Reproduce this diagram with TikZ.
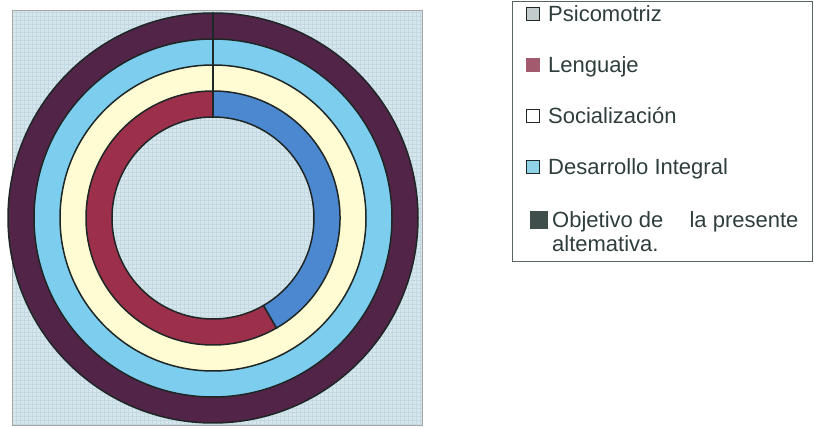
\documentclass[tikz,border=0pt]{standalone}
\usepackage{fontspec}
\setmainfont{Liberation Sans}
\usepackage{tikz}
\usepackage{xcolor}
\usetikzlibrary{positioning}

\definecolor{bgblue}{HTML}{D6E6ED}
\definecolor{gridblue}{HTML}{C4D8E1}
\definecolor{plumring}{HTML}{512448}
\definecolor{skyring}{HTML}{7DCDEE}
\definecolor{creamring}{HTML}{FFFBD3}
\definecolor{lengred}{HTML}{9C2F4A}
\definecolor{psiblue}{HTML}{4B88CF}
\definecolor{ringline}{HTML}{1F2626}
\definecolor{inkgrey}{HTML}{2F3D3D}
\definecolor{psigrey}{HTML}{C3CCCC}
\definecolor{lengmark}{HTML}{A25A6E}
\definecolor{desmark}{HTML}{8FD3E8}
\definecolor{objmark}{HTML}{3F4F4C}

\begin{document}
\begin{tikzpicture}[x=1pt, y=1pt, node distance=51pt]
    % Styles
    \tikzstyle{ring} = [draw=ringline, line width=1.5pt]
    \tikzstyle{gridline} = [gridblue, line width=0.4pt, step=4pt]
    \tikzstyle{legmark} = [rectangle, minimum size=13pt, inner sep=0pt, draw=ringline, line width=1pt]
    \tikzstyle{legtext} = [anchor=west, inner sep=0pt, text height=15.75pt, text depth=0pt, text=inkgrey, font=\fontsize{22}{26}\selectfont]
    \tikzstyle{legbox} = [draw=inkgrey!80, line width=1pt]

    \useasboundingbox (0,0) rectangle (814,428);

    % Background of the chart
    \fill[bgblue] (12,3) rectangle (422,418);
    \draw[gridline] (12,3) grid (422,418);
    \draw[gray!70] (12,3) rectangle (422,418);

    % Rings
    \coordinate (c) at (213,210);
    \draw[ring, fill=plumring] (c) circle[radius=205];
    \draw[ring, fill=skyring] (c) circle[radius=179];
    \draw[ring, fill=creamring] (c) circle[radius=153];
    \draw[ring, fill=lengred] (c) -- ++(90:127) arc[start angle=90, end angle=300, radius=127] -- cycle;
    \draw[ring, fill=psiblue] (c) -- ++(-60:127) arc[start angle=-60, end angle=90, radius=127] -- cycle;
    \fill[bgblue] (c) circle[radius=101];
    \begin{scope}
        \clip (c) circle[radius=101];
        \draw[gridline] (100,100) grid (330,320);
    \end{scope}
    \draw[ring] (c) circle[radius=101];
    \coordinate (rtop) at ([yshift=205pt]c);
    \coordinate (htop) at ([yshift=101pt]c);
    \draw[ring] (rtop) -- (htop);

    % Legend
    \draw[legbox] (512,166) rectangle (812,426);
    \node[legmark, fill=psigrey] (mkpsi) at (533,414) {};
    \node[legmark, fill=lengmark, draw=lengmark, below of=mkpsi] (mkleng) {};
    \node[legmark, fill=white, below of=mkleng] (mksoc) {};
    \node[legmark, fill=desmark, below of=mksoc] (mkdes) {};
    \node[legmark, fill=objmark, draw=objmark, minimum size=17pt, below of=mkdes, xshift=6pt, yshift=-2pt] (mkobj) {};

    \node[legtext, right=8pt of mkpsi] (txpsi) {Psicomotriz};
    \node[legtext, right=8pt of mkleng] (txleng) {Lenguaje};
    \node[legtext, right=8pt of mksoc] (txsoc) {Socialización};
    \node[legtext, right=8pt of mkdes] (txdes) {Desarrollo Integral};
    \node[legtext, right=4pt of mkobj] (txobj) {Objetivo de\hspace{20pt} la presente};
    \node[legtext] (txalt) at ([yshift=-24pt]txobj.west) {altemativa.};
\end{tikzpicture}
\end{document}
